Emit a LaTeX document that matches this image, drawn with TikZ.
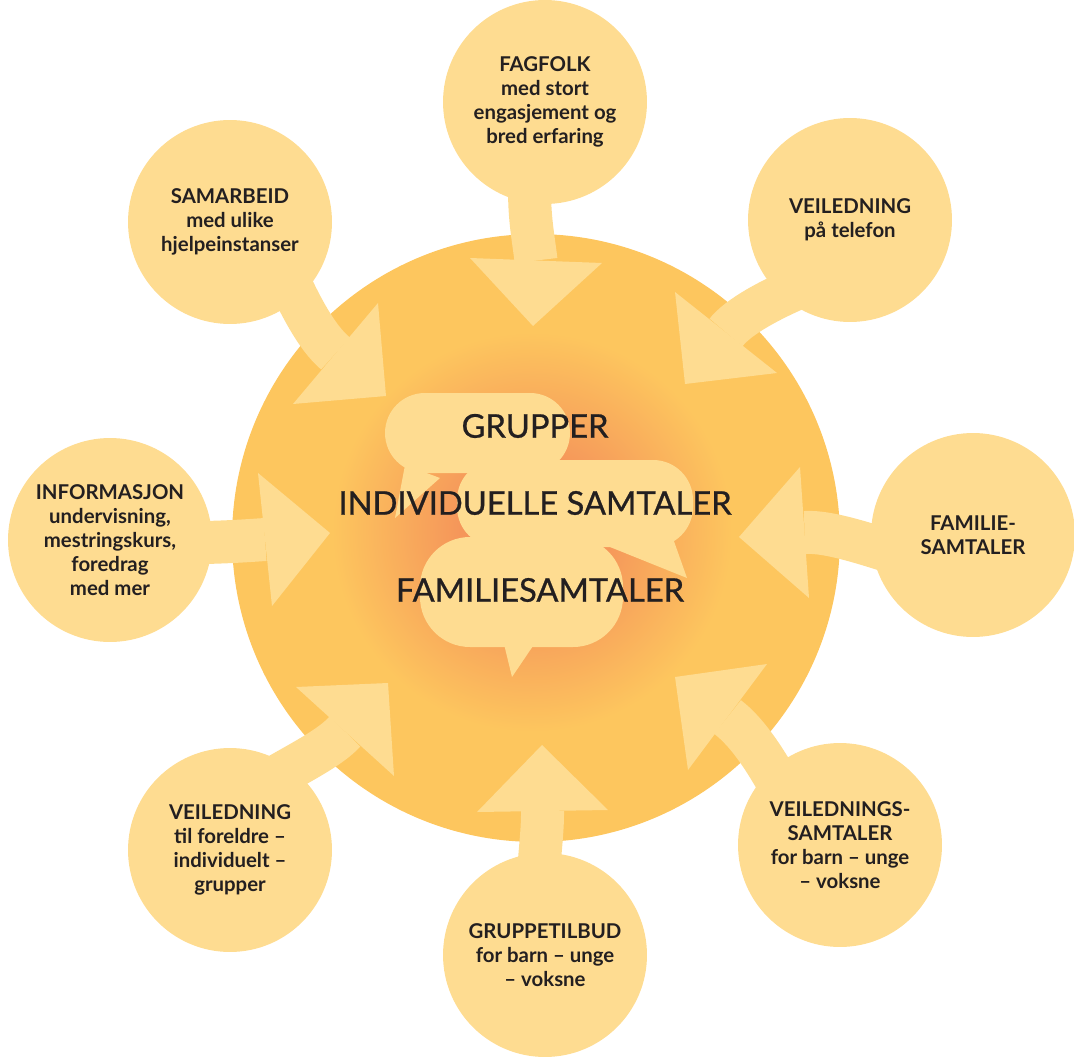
\documentclass[tikz,border=0pt]{standalone}
\usepackage{fontspec}
\setmainfont{Lato}
\newfontfamily\themefont[FakeBold=0.8]{Lato}
\usetikzlibrary{backgrounds}
\definecolor{sunc}{HTML}{FDC65E}
\definecolor{lightc}{HTML}{FEDC91}
\definecolor{glowc}{HTML}{F5965A}
\definecolor{inkc}{HTML}{231F20}
\pgfdeclareradialshading{glowshade}{\pgfpoint{0bp}{0bp}}{color(0bp)=(glowc); color(9bp)=(glowc); color(25bp)=(sunc); color(50bp)=(sunc)}
\tikzstyle{offer}=[circle,fill=lightc,inner sep=0mm,minimum size=4.08cm,align=center,text=inkc,font=\bfseries\fontsize{11.6}{13.6}\selectfont]
\tikzstyle{theme}=[inner sep=0mm,text=inkc,font=\themefont\fontsize{18.6}{22}\selectfont]
\tikzstyle{sunbox}=[circle,fill=sunc,inner sep=0mm,minimum size=12.16cm]
\tikzstyle{shaft}=[draw=lightc,line width=0.86cm,line join=round]
\tikzstyle{talk}=[fill=lightc,rounded corners=0.8cm]

\begin{document}
\begin{tikzpicture}[x=0.02cm,y=-0.02cm]
      \useasboundingbox (0,0) rectangle (1074,1057);
      % the eight offers
      \node[offer] at (545,102) (fag) {FAGFOLK\\med stort\\engasjement og\\bred erfaring};
      \node[offer] at (230,222) (sam) {SAMARBEID\\med ulike\\hjelpeinstanser};
      \node[offer] at (850,220) (tel) {VEILEDNING\\på telefon};
      \node[offer] at (110,540) (inf) {INFORMASJON\\undervisning,\\mestringskurs,\\foredrag\\med mer};
      \node[offer] at (973,535) (fam) {FAMILIE-\\SAMTALER};
      \node[offer] at (230,850) (for) {VEILEDNING\\til foreldre –\\individuelt –\\grupper};
      \node[offer] at (840,845) (vei) {VEILEDNINGS-\\SAMTALER\\for barn – unge\\– voksne};
      \node[offer] at (545,955) (grp) {GRUPPETILBUD\\for barn – unge\\– voksne};
      % centre
      \node[theme] at (535,426) (grupper) {GRUPPER};
      \node[theme] at (535,503) (indiv) {INDIVIDUELLE SAMTALER};
      \node[theme] at (540,590) (famsam) {FAMILIESAMTALER};
      \begin{scope}[on background layer]
      \node[sunbox] at (536,538) (sun) {};
      \shade[shading=glowshade] (532,532) circle (200);
      % speech bubbles
      \fill[talk] (385,393) rectangle (570,473);
      \fill[lightc] (405,465) -- (395,518) -- (440,478) -- cycle;
      \fill[talk] (457,460) rectangle (693,547);
      \fill[lightc] (670,530) -- (687,578) -- (605,545) -- cycle;
      \fill[talk,rounded corners=1cm] (420,537) rectangle (623,647);
      \fill[lightc] (503,640) -- (512,677) -- (537,640) -- cycle;
      % arrows into the sun
      \coordinate (fagb) at (536,260.5);
      \coordinate (samb) at (335.5,353.5);
      \coordinate (telb) at (726,332.5);
      \coordinate (famb) at (804.5,532.5);
      \coordinate (infb) at (265,539.5);
      \coordinate (forb) at (345,731.5);
      \coordinate (grpb) at (542.5,811);
      \coordinate (veib) at (727.5,717);
      \draw[shaft] (fag.center) .. controls (520,180) and (532,225) .. (fagb);
      \draw[shaft] (sam.center) -- (281,263) .. controls (299,304.5) and (316.5,337.5) .. (samb);
      \draw[shaft] (tel.center) -- (812,282) .. controls (770,299) and (738,317) .. (telb);
      \draw[shaft] (fam.center) -- (914,559) .. controls (871,545.5) and (829.5,530.8) .. (famb);
      \draw[shaft] (inf.center) .. controls (180,545) and (230,542) .. (infb);
      \draw[shaft] (for.center) -- (257,788) .. controls (295,764.6) and (328,750) .. (forb);
      \draw[shaft] (grp.center) .. controls (530,900) and (543,850) .. (grpb);
      \draw[shaft] (vei.center) -- (789,803.6) .. controls (768.8,763.5) and (747.5,732) .. (veib);
      \fill[lightc] (470,258) -- (533,326) -- (602,263) -- cycle;
      \fill[lightc] (378,303) -- (386,396) -- (293,404) -- cycle;
      \fill[lightc] (675,292) -- (685,384) -- (777,373) -- cycle;
      \fill[lightc] (800,467) -- (739,537) -- (809,598) -- cycle;
      \fill[lightc] (258,473) -- (330,533) -- (272,606) -- cycle;
      \fill[lightc] (296,687) -- (388,683) -- (394,776) -- cycle;
      \fill[lightc] (477,812) -- (542,745) -- (608,810) -- cycle;
      \fill[lightc] (767,664) -- (675,677) -- (688,770) -- cycle;
      \end{scope}
    \end{tikzpicture}
\end{document}
